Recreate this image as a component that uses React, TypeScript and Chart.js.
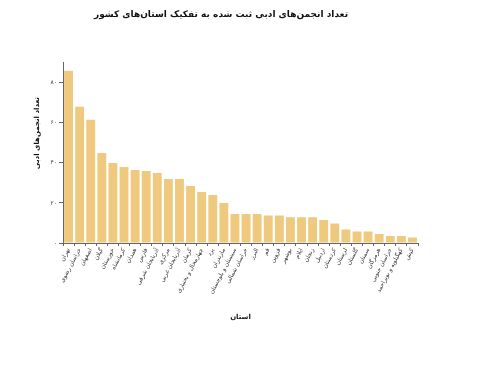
import React, { useEffect, useRef } from "react";
import { Chart, registerables } from "chart.js";

Chart.register(...registerables);

const provinces: string[] = [
  "تهران",
  "خراسان رضوی",
  "اصفهان",
  "گیلان",
  "خوزستان",
  "کرمانشاه",
  "همدان",
  "فارس",
  "آذربایجان شرقی",
  "مرکزی",
  "آذربایجان غربی",
  "کرمان",
  "چهارمحال و بختیاری",
  "یزد",
  "مازندران",
  "سیستان و بلوچستان",
  "خراسان شمالی",
  "البرز",
  "قم",
  "قزوین",
  "بوشهر",
  "ایلام",
  "زنجان",
  "اردبیل",
  "کردستان",
  "لرستان",
  "گلستان",
  "سمنان",
  "هرمزگان",
  "خراسان جنوبی",
  "کهگیلویه و بویراحمد",
  "کیش",
];

const counts: number[] = [
  86, 68, 61.5, 45, 40, 38, 36.5, 36, 35, 32, 32, 28.5, 25.5, 24, 20, 14.5,
  14.5, 14.5, 13.7, 13.7, 12.8, 12.8, 12.8, 11.5, 9.7, 6.7, 5.7, 5.7, 4.5, 3.5,
  3.5, 2.7,
];

const yTicks: number[] = [0, 20, 40, 60, 80];

const chartTitle = "تعداد انجمن‌های ادبی ثبت شده به تفکیک استان‌های کشور";
const yTitle = "تعداد انجمن‌های ادبی";
const xTitle = "استان";

const FONT = "'DejaVu Sans', sans-serif";

const toPersianDigits = (v: number | string) =>
  String(v).replace(/\d/g, (d) => "۰۱۲۳۴۵۶۷۸۹"[Number(d)]);

export default function App() {
  const ref = useRef<HTMLCanvasElement | null>(null);

  useEffect(() => {
    if (!ref.current) return;

    const yTitlePlugin = {
      id: "yTitlePlugin",
      afterDraw(chart: any) {
        const { ctx, chartArea } = chart;
        ctx.save();
        ctx.translate(37, chartArea.top + (chartArea.bottom - chartArea.top) * 0.39);
        ctx.rotate(-Math.PI / 2);
        ctx.font = `bold 7px ${FONT}`;
        ctx.fillStyle = "#111";
        ctx.textAlign = "center";
        ctx.textBaseline = "middle";
        ctx.fillText(yTitle, 0, 0);
        ctx.restore();
      },
    };

    const chart = new Chart(ref.current, {
      type: "bar",
      data: {
        labels: provinces,
        datasets: [
          {
            data: counts,
            backgroundColor: "#EFC97E",
            borderWidth: 0,
            barPercentage: 0.8,
            categoryPercentage: 1,
          },
        ],
      },
      plugins: [yTitlePlugin],
      options: {
        animation: false,
        responsive: false,
        maintainAspectRatio: false,
        layout: { padding: { left: 24, right: 82, top: 0, bottom: 52 } },
        plugins: {
          legend: { display: false },
          tooltip: { enabled: false },
          title: {
            display: true,
            text: chartTitle,
            color: "#111",
            font: { family: FONT, size: 9, weight: "bold" },
            padding: { top: 9, bottom: 43 },
          },
        },
        scales: {
          x: {
            afterFit: (s: any) => {
              s.height = 83;
            },
            grid: {
              display: true,
              drawOnChartArea: false,
              drawTicks: true,
              tickLength: 3,
              color: "#666",
            },
            border: { display: true, color: "#666", width: 1 },
            ticks: {
              autoSkip: false,
              maxRotation: 62,
              minRotation: 62,
              padding: 1,
              color: "#333",
              font: { family: FONT, size: 6 },
            },
            title: {
              display: true,
              text: xTitle,
              color: "#111",
              font: { family: FONT, size: 7, weight: "bold" },
              padding: { top: 4, bottom: 5 },
            },
          },
          y: {
            min: 0,
            max: 90,
            afterFit: (s: any) => {
              s.width = 39;
            },
            afterBuildTicks: (s: any) => {
              s.ticks = yTicks.map((v) => ({ value: v }));
            },
            grid: {
              display: true,
              drawOnChartArea: false,
              drawTicks: true,
              tickLength: 4,
              color: "#666",
            },
            border: { display: true, color: "#666", width: 1 },
            ticks: {
              padding: 2,
              color: "#444",
              font: { family: FONT, size: 6 },
              callback: (v: any) => toPersianDigits(v),
            },
            title: { display: false },
          },
        },
      },
    });

    return () => chart.destroy();
  }, []);

  return (
    <div
      style={{
        position: "fixed",
        left: 0,
        top: 0,
        width: 500,
        height: 378,
        background: "#fff",
      }}
    >
      <canvas ref={ref} width={500} height={378} style={{ width: 500, height: 378 }} />
    </div>
  );
}
